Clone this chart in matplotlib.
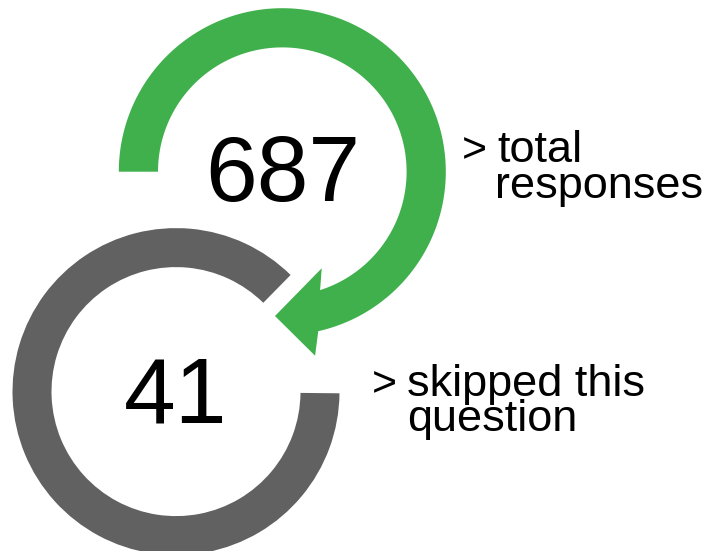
import numpy as np
import matplotlib
matplotlib.use("Agg")
import matplotlib.pyplot as plt
from matplotlib.patches import Polygon, Wedge

# ---- data ----
total_responses = 687
skipped = 41
label_total = ["total", "responses"]
label_skipped = ["skipped this", "question"]

# ---- style / geometry (pixel units) ----
GREEN = "#3FB04B"
GRAY = "#616161"
FONT = "Liberation Sans"

W, H = 712, 551
fig = plt.figure(figsize=(W / 100, H / 100), dpi=100)
ax = fig.add_axes([0, 0, 1, 1])
ax.set_xlim(0, W)
ax.set_ylim(H, 0)
ax.set_aspect("equal")
ax.axis("off")

# green arrow ring
gc = np.array([282.3, 171.7])
r_out, r_in = 163.5, 124.3

def pt(c, r, deg):
    a = np.deg2rad(deg)
    return c + r * np.array([np.cos(a), np.sin(a)])

outer = [pt(gc, r_out, a) for a in np.linspace(180, 437.3, 200)]
head = [pt(gc, 186.9, 439.9), pt(gc, 144.5, 452.9), pt(gc, 104.3, 427.8)]
inner = [pt(gc, r_in, a) for a in np.linspace(432.3, 180, 200)]
ax.add_patch(Polygon(outer + head + inner, closed=True, fc=GREEN, ec="none"))

# gray ring
kc = (176.0, 391.6)
ax.add_patch(Wedge(kc, 163.5, 0.6, 314.5, width=39.0, fc=GRAY, ec="none"))

# big numbers
ax.text(gc[0], 201.5, str(total_responses), fontsize=67, family=FONT,
        ha="center", va="baseline", color="black")
ax.text(kc[0], 422.5, str(skipped), fontsize=67, family=FONT,
        ha="center", va="baseline", color="black")

# labels
fs = 32.5
ax.text(461.5, 162.0, ">", fontsize=fs * 0.95, family=FONT, va="baseline", color="black")
ax.text(497.0, 162.0, label_total[0], fontsize=fs, family=FONT, va="baseline", color="black")
ax.text(495.5, 198.0, label_total[1], fontsize=fs, family=FONT, va="baseline", color="black")

ax.text(371.5, 396.0, ">", fontsize=fs * 0.95, family=FONT, va="baseline", color="black")
ax.text(407.0, 396.0, label_skipped[0], fontsize=fs, family=FONT, va="baseline", color="black")
ax.text(407.5, 431.0, label_skipped[1], fontsize=fs, family=FONT, va="baseline", color="black")

fig.savefig("out.png", dpi=100)
